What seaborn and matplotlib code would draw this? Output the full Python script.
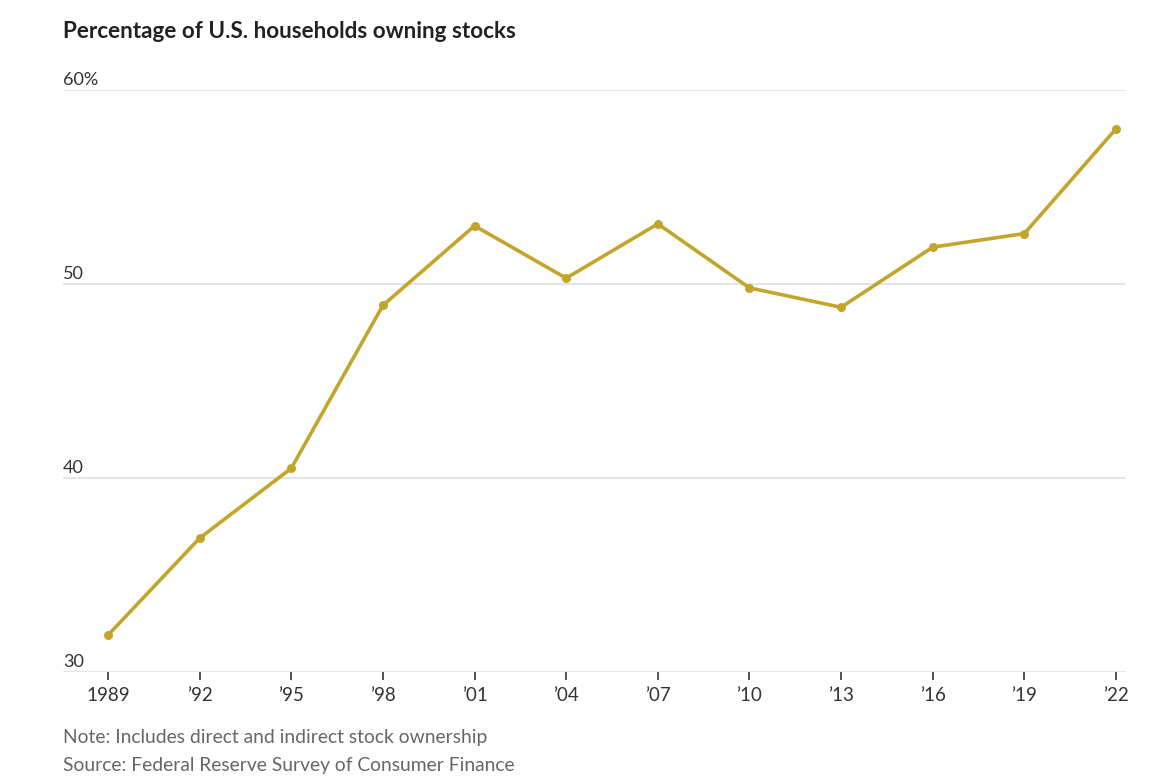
import matplotlib
matplotlib.use("Agg")
from matplotlib import pyplot as plt
import seaborn as sns
import pandas as pd

# Data
years = [1989, 1992, 1995, 1998, 2001, 2004, 2007, 2010, 2013, 2016, 2019, 2022]
share = [31.9, 36.9, 40.5, 48.9, 53.0, 50.3, 53.1, 49.8, 48.8, 51.9, 52.6, 58.0]
year_labels = ["1989", "\u201992", "\u201995", "\u201998", "\u201901", "\u201904",
               "\u201907", "\u201910", "\u201913", "\u201916", "\u201919", "\u201922"]
y_ticks = [30, 40, 50, 60]
y_labels = ["30", "40", "50", "60%"]

df = pd.DataFrame({"year": years, "share": share})

sns.set_style("white")
plt.rcParams['font.family'] = ['Lato', 'DejaVu Sans']

fig = plt.figure(figsize=(11.55, 7.81), dpi=100)
ax = fig.add_axes([63/1155, 109/781, 1063/1155, 582/781])

line_col = "#C4A52B"
sns.lineplot(data=df, x="year", y="share", ax=ax, color=line_col, linewidth=2.6,
             marker="o", markersize=6.5, markeredgewidth=0, clip_on=False, zorder=3)

ax.set_xlim(1987.527, 2022.327)
ax.set_ylim(30, 60)

for y in y_ticks:
    ax.axhline(y, color="#dedede", linewidth=1.1, zorder=1)

ax.set_yticks(y_ticks)
ax.set_yticklabels([])
ax.tick_params(axis="y", length=0)
for y, lab in zip(y_ticks, y_labels):
    ax.text(0, y + 0.12, lab, transform=ax.get_yaxis_transform(), ha="left", va="bottom",
            fontsize=13, color="#333333")

ax.set_xticks(years)
ax.set_xticklabels(year_labels, fontsize=13.5, color="#333333")
ax.tick_params(axis="x", bottom=True, length=6, width=1.3, color="#444444", pad=5,
               direction="out")

for s in ax.spines.values():
    s.set_visible(False)
ax.set_xlabel("")
ax.set_ylabel("")

fig.text(63/1155, 1 - 32/781, "Percentage of U.S. households owning stocks",
         fontsize=16.2, fontweight="bold", color="#222222", ha="left", va="center")
fig.text(63/1155, 1 - 738/781, "Note: Includes direct and indirect stock ownership",
         fontsize=13.9, color="#666666", ha="left", va="center")
fig.text(63/1155, 1 - 765/781, "Source: Federal Reserve Survey of Consumer Finance",
         fontsize=13.9, color="#666666", ha="left", va="center")

fig.savefig("out.png", dpi=100)
